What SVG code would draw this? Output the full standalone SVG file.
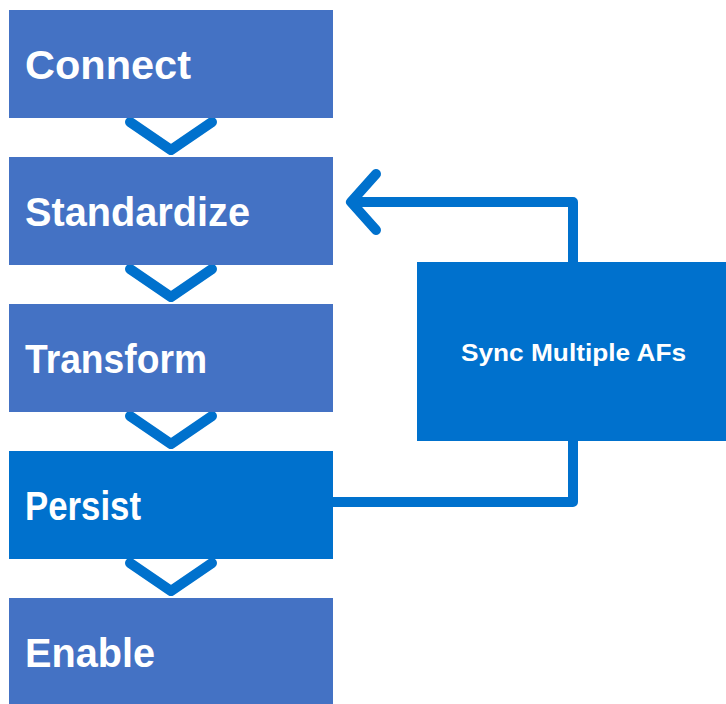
<svg xmlns="http://www.w3.org/2000/svg" width="726" height="704" viewBox="0 0 726 704">
<style>
.step{fill:#4472C4}
.dark{fill:#0071CD}
.lbl{font-family:"Liberation Sans",Arial,sans-serif;font-weight:bold;fill:#fff;font-size:40px}
.sl{font-family:"Liberation Sans",Arial,sans-serif;font-weight:bold;fill:#fff;font-size:23px}
.ln{fill:none;stroke:#0071CD;stroke-width:10;stroke-linecap:round;stroke-linejoin:round}
</style>
<rect width="726" height="704" fill="#fff"/>
<g id="connectors">
<polyline class="ln" points="130,122 171,150 212,122"/>
<polyline class="ln" points="130,269 171,297 212,269"/>
<polyline class="ln" points="130,416 171,444 212,416"/>
<polyline class="ln" points="130,563 171,591 212,563"/>
<polyline class="ln" points="573,262 573,202 352,202"/>
<polyline class="ln" points="376,174 351,202 376,230"/>
<polyline class="ln" points="333,502 573,502 573,441"/>
</g>
<g id="connect"><rect class="step" x="9" y="10" width="324" height="108"/><text class="lbl" x="25" y="79" textLength="166" lengthAdjust="spacingAndGlyphs">Connect</text></g>
<g id="standardize"><rect class="step" x="9" y="157" width="324" height="108"/><text class="lbl" x="25" y="226" textLength="225" lengthAdjust="spacingAndGlyphs">Standardize</text></g>
<g id="transform"><rect class="step" x="9" y="304" width="324" height="108"/><text class="lbl" x="25" y="373" textLength="182" lengthAdjust="spacingAndGlyphs">Transform</text></g>
<g id="persist"><rect class="dark" x="9" y="451" width="324" height="108"/><text class="lbl" x="25" y="520" textLength="116" lengthAdjust="spacingAndGlyphs">Persist</text></g>
<g id="enable"><rect class="step" x="9" y="598" width="324" height="108"/><text class="lbl" x="25" y="667" textLength="130" lengthAdjust="spacingAndGlyphs">Enable</text></g>
<g id="sync"><rect class="dark" x="417" y="262" width="309" height="179"/><text class="sl" x="461" y="361" textLength="225" lengthAdjust="spacingAndGlyphs">Sync Multiple AFs</text></g>
</svg>
